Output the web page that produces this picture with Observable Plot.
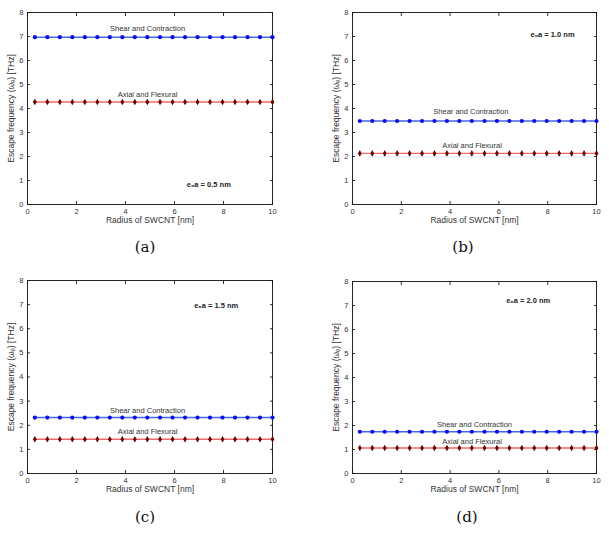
<!DOCTYPE html>
<html><head><meta charset="utf-8">
<script src="https://cdn.jsdelivr.net/npm/d3@7"></script>
<script src="https://cdn.jsdelivr.net/npm/@observablehq/plot@0.6"></script>
<style>
body{margin:0;background:#fff;}
#root{position:relative;width:609px;height:535px;overflow:hidden;}
.panel{position:absolute;}
.cap{position:absolute;font-family:"DejaVu Serif","Liberation Serif",serif;font-size:15px;color:#111;transform:translate(-50%,-50%);}
</style></head>
<body><div id="root"></div>
<script>
const radius = [0.3,0.81,1.32,1.83,2.34,2.85,3.36,3.87,4.38,4.89,5.41,5.92,6.43,6.94,7.45,7.96,8.47,8.98,9.49,10];
const xTicks = [0,2,4,6,8,10];
const yTicks = [0,1,2,3,4,5,6,7,8];
const panelNames = ["(a)","(b)","(c)","(d)"];
const e0aLabels = ["e\u2080a = 0.5 nm","e\u2080a = 1.0 nm","e\u2080a = 1.5 nm","e\u2080a = 2.0 nm"];
const shearA = [6.97,6.97,6.97,6.97,6.97,6.97,6.97,6.97,6.97,6.97,6.97,6.97,6.97,6.97,6.97,6.97,6.97,6.97,6.97,6.97];
const axialA = [4.27,4.27,4.27,4.27,4.27,4.27,4.27,4.27,4.27,4.27,4.27,4.27,4.27,4.27,4.27,4.27,4.27,4.27,4.27,4.27];
const shearB = [3.48,3.48,3.48,3.48,3.48,3.48,3.48,3.48,3.48,3.48,3.48,3.48,3.48,3.48,3.48,3.48,3.48,3.48,3.48,3.48];
const axialB = [2.13,2.13,2.13,2.13,2.13,2.13,2.13,2.13,2.13,2.13,2.13,2.13,2.13,2.13,2.13,2.13,2.13,2.13,2.13,2.13];
const shearC = [2.32,2.32,2.32,2.32,2.32,2.32,2.32,2.32,2.32,2.32,2.32,2.32,2.32,2.32,2.32,2.32,2.32,2.32,2.32,2.32];
const axialC = [1.42,1.42,1.42,1.42,1.42,1.42,1.42,1.42,1.42,1.42,1.42,1.42,1.42,1.42,1.42,1.42,1.42,1.42,1.42,1.42];
const shearD = [1.74,1.74,1.74,1.74,1.74,1.74,1.74,1.74,1.74,1.74,1.74,1.74,1.74,1.74,1.74,1.74,1.74,1.74,1.74,1.74];
const axialD = [1.06,1.06,1.06,1.06,1.06,1.06,1.06,1.06,1.06,1.06,1.06,1.06,1.06,1.06,1.06,1.06,1.06,1.06,1.06,1.06];
const shearName = "Shear and Contraction";
const axialName = "Axial and Flexural";
const xLabel = "Radius of SWCNT [nm]";
const yLabel = "Escape frequency (\u03c9\u2091) [THz]";

const series = [[shearA,axialA],[shearB,axialB],[shearC,axialC],[shearD,axialD]];
const layout = [
  {left:0,   top:0,   width:300, height:232, ml:27, mr:28, mt:12, mb:28, cap:[145,247],
   sl:[4.9,7.35], al:[4.9,4.6], el:[7.4,0.82]},
  {left:300, top:0,   width:309, height:232, ml:52, mr:13, mt:12, mb:28, cap:[463,247],
   sl:[4.85,3.88], al:[4.9,2.46], el:[8.2,7.1]},
  {left:0,   top:265, width:300, height:235, ml:27, mr:28, mt:15, mb:27, cap:[145,517],
   sl:[4.9,2.62], al:[4.9,1.72], el:[7.7,6.98]},
  {left:300, top:265, width:309, height:235, ml:52, mr:13, mt:16, mb:27, cap:[467,517],
   sl:[5.0,2.04], al:[4.9,1.33], el:[7.2,7.2]}
];

const root = document.getElementById("root");
layout.forEach((L,i)=>{
  const [sv, av] = series[i];
  const shear = radius.map((r,k)=>({r, v: sv[k]}));
  const axial = radius.map((r,k)=>({r, v: av[k]}));
  const p = Plot.plot({
    width: L.width, height: L.height,
    marginLeft: L.ml, marginRight: L.mr, marginTop: L.mt, marginBottom: L.mb,
    style: {fontFamily: "'Liberation Sans', Arial, sans-serif", background: "transparent", color:"#333"},
    x: {domain:[0,10]},
    y: {domain:[0,8]},
    marks: [
      Plot.axisX({ticks:xTicks, tickSize:0, tickPadding:4, fontSize:7.5, label:null}),
      Plot.axisX({ticks:[], label:xLabel, fontSize:8.5, labelAnchor:"center", labelOffset:18, labelArrow:"none"}),
      Plot.axisX({ticks:xTicks, tickSize:-3, tickFormat:()=>"", label:null}),
      Plot.axisX({anchor:"top", ticks:xTicks, tickSize:-3, tickFormat:()=>"", label:null}),
      Plot.axisY({ticks:yTicks, tickSize:0, tickPadding:4, fontSize:7.5, label:null}),
      Plot.axisY({ticks:[], label:yLabel, fontSize:8.5, labelAnchor:"center", labelOffset:20, labelArrow:"none"}),
      Plot.axisY({ticks:yTicks, tickSize:-3, tickFormat:()=>"", label:null}),
      Plot.axisY({anchor:"right", ticks:yTicks, tickSize:-3, tickFormat:()=>"", label:null}),
      Plot.frame({stroke:"#111", strokeWidth:0.9}),
      Plot.lineY(shear, {x:"r", y:"v", stroke:"#4a64f5", strokeWidth:1.4}),
      Plot.dot(shear, {x:"r", y:"v", r:2.1, fill:"#0a10e0", stroke:"none"}),
      Plot.lineY(axial, {x:"r", y:"v", stroke:"#ee6a6a", strokeWidth:1.4}),
      Plot.dot(axial, {x:"r", y:"v", r:2.0, symbol:"diamond", fill:"#6a0000", stroke:"none"}),
      Plot.text([shearName], {x:()=>L.sl[0], y:()=>L.sl[1], text:d=>d, fontSize:7.5, fill:"#333"}),
      Plot.text([axialName], {x:()=>L.al[0], y:()=>L.al[1], text:d=>d, fontSize:7.5, fill:"#333"}),
      Plot.text([e0aLabels[i]], {x:()=>L.el[0], y:()=>L.el[1], text:d=>d, fontSize:7.5, fontWeight:"bold", fill:"#222"})
    ]
  });
  const wrap = document.createElement("div");
  wrap.className = "panel";
  wrap.style.left = L.left+"px"; wrap.style.top = L.top+"px";
  wrap.appendChild(p);
  root.appendChild(wrap);
  const c = document.createElement("div");
  c.className = "cap";
  c.style.left = L.cap[0]+"px"; c.style.top = L.cap[1]+"px";
  c.textContent = panelNames[i];
  root.appendChild(c);
});
</script></body></html>
